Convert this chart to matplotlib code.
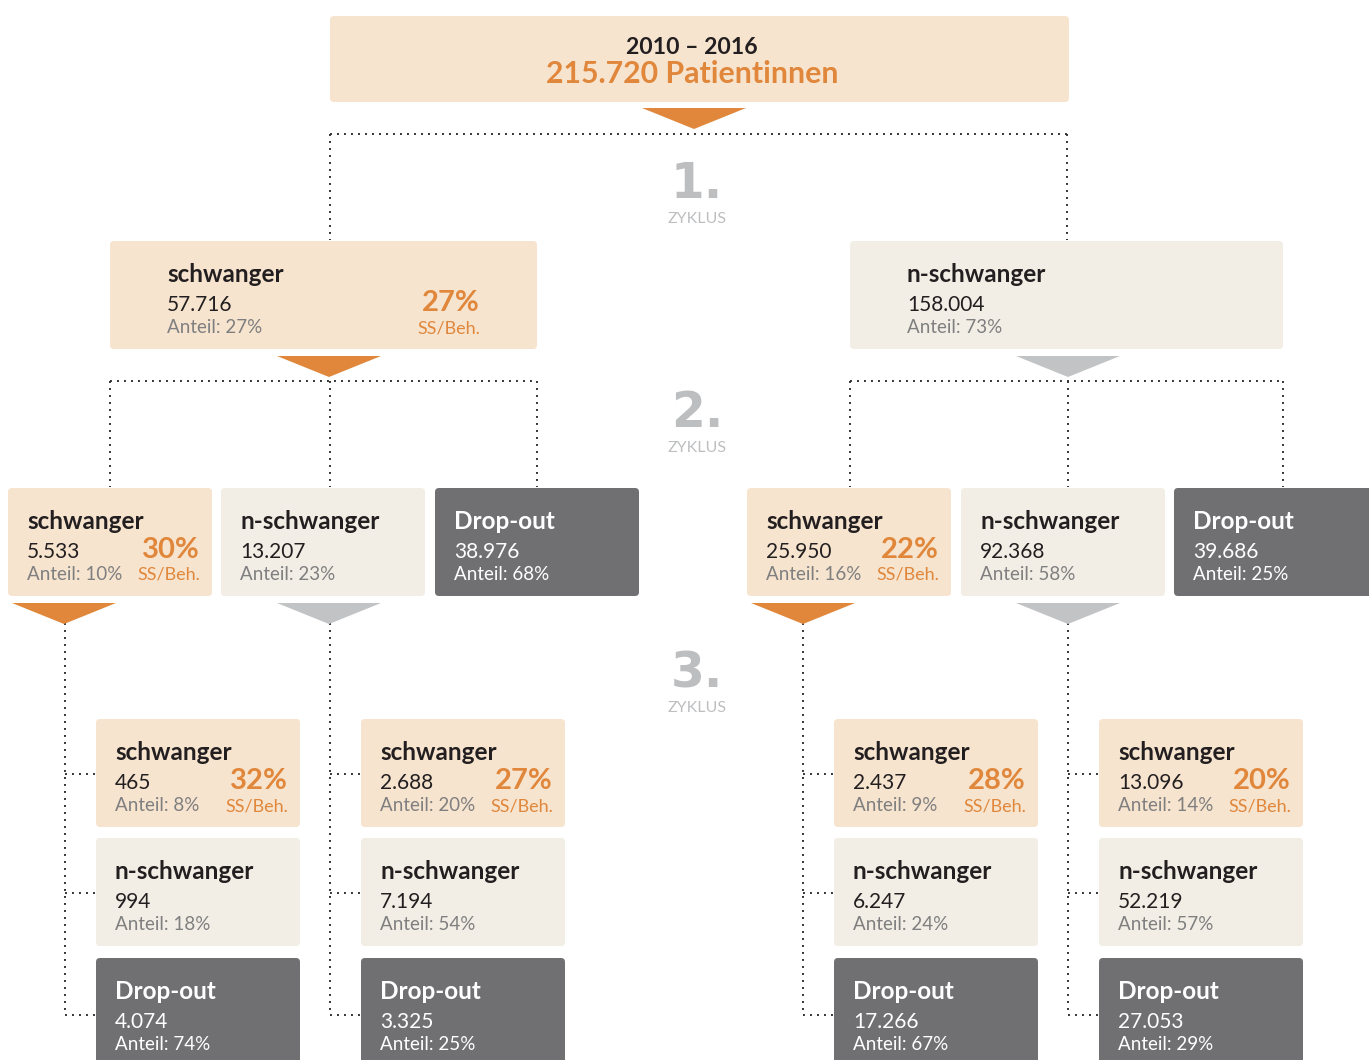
import matplotlib.pyplot as plt
from matplotlib.patches import FancyBboxPatch, Polygon

# colours
PEACH = "#F6E4CF"
CREAM = "#F3EEE5"
DARK = "#707073"
ORANGE = "#E0873B"
ARROW_GREY = "#C2C3C5"
TEXT_GREY = "#7F7F80"
BLACK = "#231F20"
FONT = "Lato"

# data
total_years = "2010 – 2016"
total_patients = "215.720 Patientinnen"

cycle_labels = ["1.", "2.", "3."]

level1_titles = ["schwanger", "n-schwanger"]
level1_counts = ["57.716", "158.004"]
level1_shares = ["27%", "73%"]
level1_rates = ["27%", None]

level2_titles = ["schwanger", "n-schwanger", "Drop-out",
                 "schwanger", "n-schwanger", "Drop-out"]
level2_counts = ["5.533", "13.207", "38.976", "25.950", "92.368", "39.686"]
level2_shares = ["10%", "23%", "68%", "16%", "58%", "25%"]
level2_rates = ["30%", None, None, "22%", None, None]

level3_titles = ["schwanger", "n-schwanger", "Drop-out"] * 4
level3_counts = ["465", "994", "4.074",
                 "2.688", "7.194", "3.325",
                 "2.437", "6.247", "17.266",
                 "13.096", "52.219", "27.053"]
level3_shares = ["8%", "18%", "74%",
                 "20%", "54%", "25%",
                 "9%", "24%", "67%",
                 "14%", "57%", "29%"]
level3_rates = ["32%", None, None,
                "27%", None, None,
                "28%", None, None,
                "20%", None, None]

fig = plt.figure(figsize=(13.69, 10.60), dpi=100)
ax = fig.add_axes([0, 0, 1, 1])
ax.set_xlim(0, 1369)
ax.set_ylim(1060, 0)
ax.axis("off")


def box_colour(title):
    if title == "schwanger":
        return PEACH
    if title == "n-schwanger":
        return CREAM
    return DARK


def draw_box(x, y, w, h, title, count, share, rate, pad=19, right=None):
    face = box_colour(title)
    ax.add_patch(FancyBboxPatch((x, y), w, h, boxstyle="round,pad=0,rounding_size=4",
                                fc=face, ec="none", zorder=2))
    dark = face == DARK
    ax.text(x + pad, y + 41, title, fontsize=17.5, fontweight="bold", family=FONT,
            color="white" if dark else BLACK, va="baseline", zorder=3)
    ax.text(x + pad, y + 70, count, fontsize=15, family=FONT,
            color="white" if dark else BLACK, va="baseline", zorder=3)
    ax.text(x + pad, y + 92, "Anteil: " + share, fontsize=13.5, family=FONT,
            color="white" if dark else TEXT_GREY, va="baseline", zorder=3)
    if rate is not None:
        rx = x + w - 12 if right is None else right
        ax.text(rx, y + 70, rate, fontsize=21, fontweight="bold", family=FONT,
                color=ORANGE, ha="right", va="baseline", zorder=3)
        ax.text(rx, y + 92, "SS/Beh.", fontsize=13, family=FONT,
                color=ORANGE, ha="right", va="baseline", zorder=3)


def draw_arrow(cx, y, colour, half=52, depth=21):
    ax.add_patch(Polygon([(cx - half, y), (cx + half, y), (cx, y + depth)],
                         closed=True, fc=colour, ec="none", zorder=2))


def dotted(xs, ys):
    ax.plot(xs, ys, color="#333333", lw=1.4, linestyle=(0, (1, 2.6)), zorder=1)


def cycle_mark(label, y):
    ax.text(697, y, label, fontsize=35, fontweight="bold", family="DejaVu Sans",
            color="#BDBEC0", ha="center", va="baseline")
    ax.text(697, y + 25, "ZYKLUS", fontsize=11.5, family=FONT,
            color="#BDBEC0", ha="center", va="baseline")


# top box
ax.add_patch(FancyBboxPatch((330, 16), 739, 86, boxstyle="round,pad=0,rounding_size=4",
                            fc=PEACH, ec="none", zorder=2))
ax.text(692, 54, total_years, fontsize=16.6, fontweight="bold", family=FONT,
        color=BLACK, ha="center", va="baseline")
ax.text(692, 83, total_patients, fontsize=21.8, fontweight="bold", family=FONT,
        color=ORANGE, ha="center", va="baseline")
draw_arrow(694, 108, ORANGE)

# cycle 1 connectors
dotted([330, 1067], [134, 134])
dotted([330, 330], [134, 240])
dotted([1067, 1067], [134, 240])
cycle_mark(cycle_labels[0], 198)

# level 1
l1_x = [110, 850]
l1_w = [427, 433]
for i in range(2):
    draw_box(l1_x[i], 241, l1_w[i], 108, level1_titles[i], level1_counts[i],
             level1_shares[i], level1_rates[i], pad=57, right=l1_x[i] + 370)
draw_arrow(329, 356, ORANGE)
draw_arrow(1068, 356, ARROW_GREY)

# cycle 2 connectors
for x0, xm, x1 in [(110, 330, 537), (850, 1068, 1283)]:
    dotted([x0, x1], [381, 381])
    for xv in (x0, xm, x1):
        dotted([xv, xv], [381, 487])
cycle_mark(cycle_labels[1], 427)

# level 2
l2_x = [8, 221, 435, 747, 961, 1174]
for i in range(6):
    draw_box(l2_x[i], 488, 204, 108, level2_titles[i], level2_counts[i],
             level2_shares[i], level2_rates[i])
draw_arrow(64, 603, ORANGE)
draw_arrow(329, 603, ARROW_GREY)
draw_arrow(803, 603, ORANGE)
draw_arrow(1068, 603, ARROW_GREY)
cycle_mark(cycle_labels[2], 687)

# level 3
l3_x = [96, 361, 834, 1099]
l3_stem = [65, 330, 803, 1068]
l3_y = [719, 838, 958]
stub_y = [774, 893, 1015]
for g in range(4):
    dotted([l3_stem[g], l3_stem[g]], [623, 1015])
    for r in range(3):
        k = g * 3 + r
        dotted([l3_stem[g], l3_x[g]], [stub_y[r], stub_y[r]])
        draw_box(l3_x[g], l3_y[r], 204, 108 if r < 2 else 120, level3_titles[k],
                 level3_counts[k], level3_shares[k], level3_rates[k])

fig.savefig("out.png", dpi=100)
